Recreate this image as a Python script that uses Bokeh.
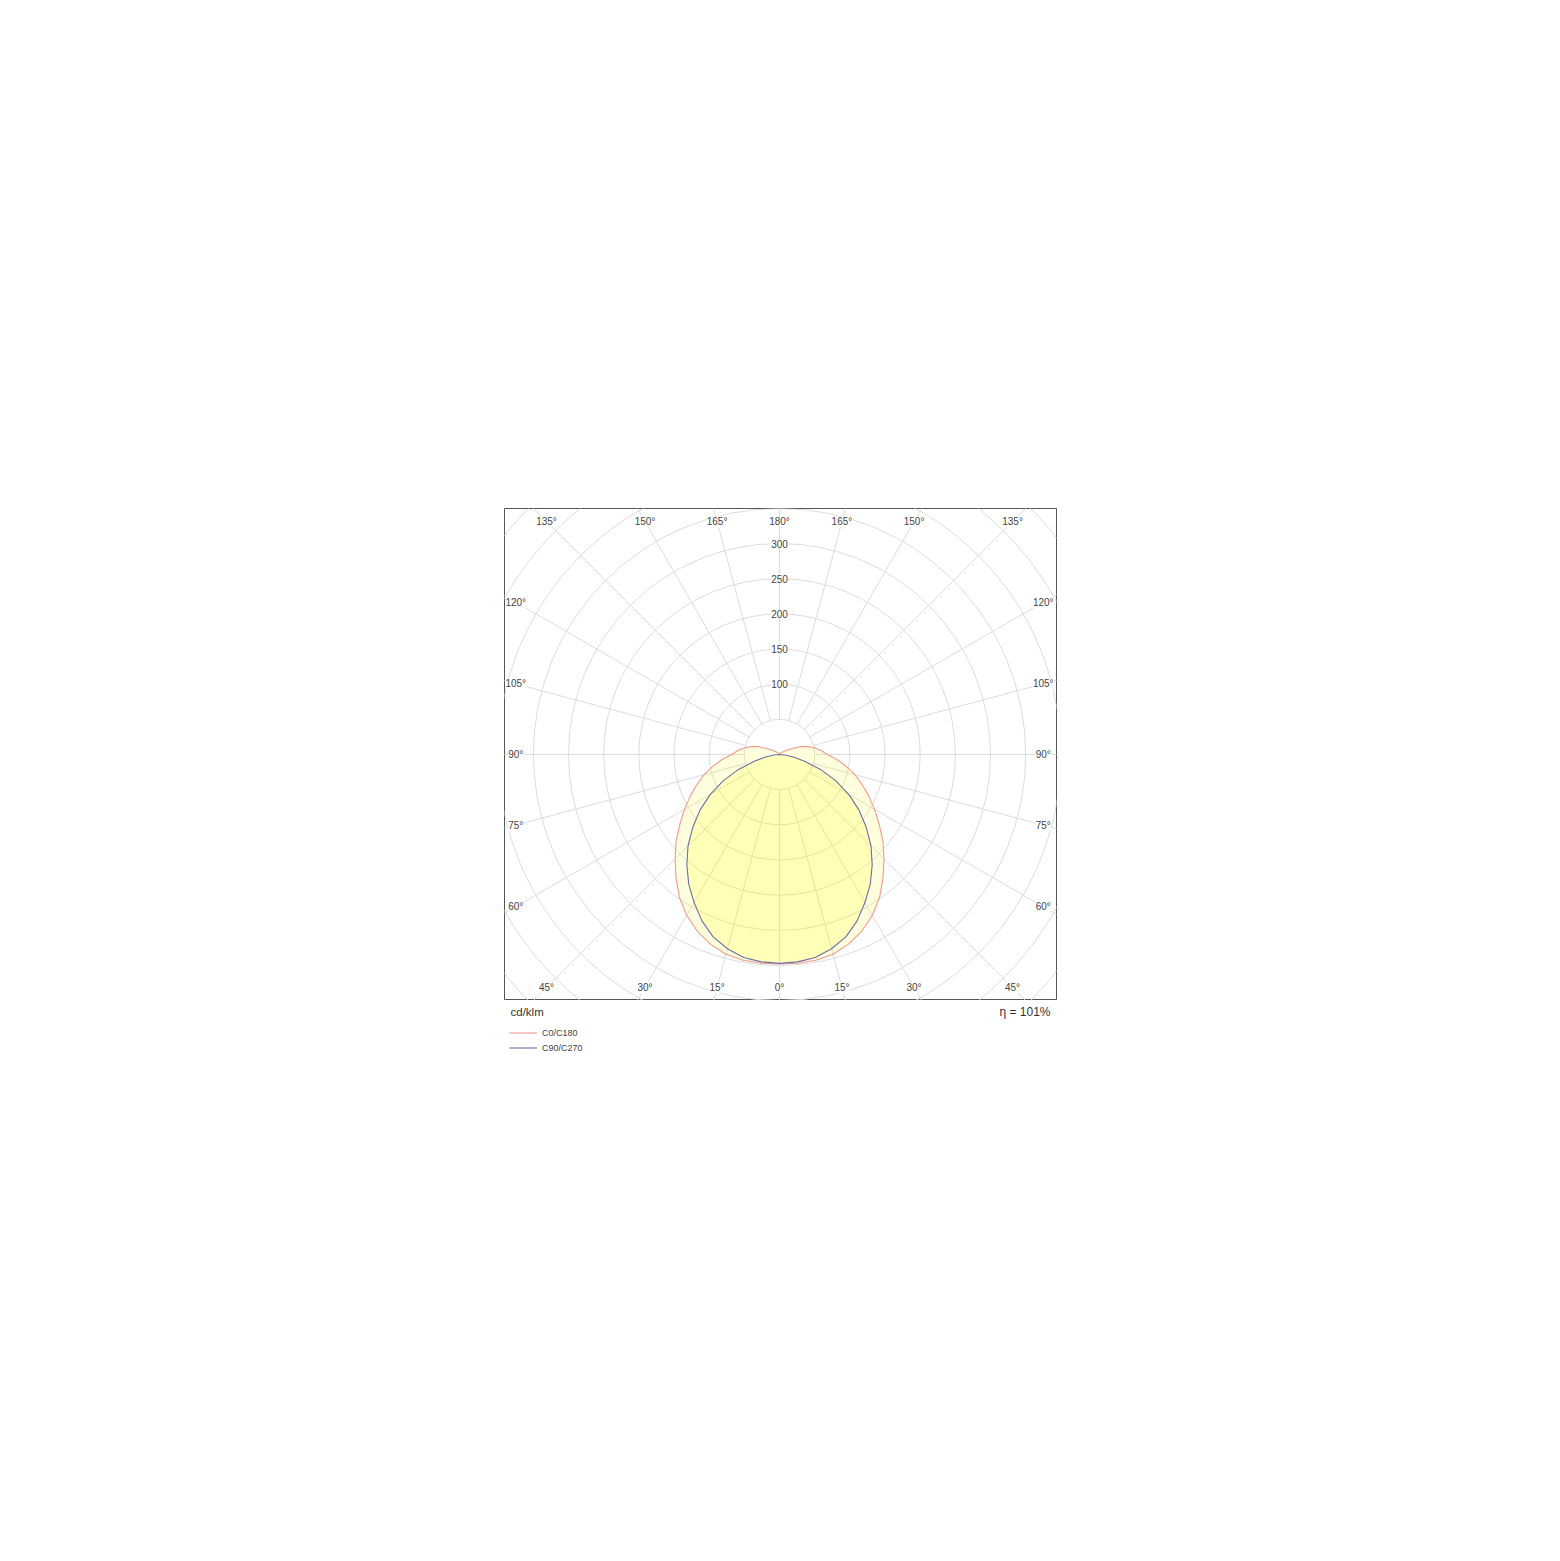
import numpy as np
from bokeh.plotting import figure
from bokeh.layouts import column
from bokeh.models import Label, Legend, LegendItem, Range1d
from bokeh.embed import file_html
from bokeh.resources import INLINE

# ---- data (cd/klm) ----
gamma = list(range(0, 185, 5))
c0_c180 = [298, 298, 297, 294, 287, 277, 264, 248, 229, 210, 192, 173, 156,
           140, 125, 111, 96, 82, 68, 60, 52, 43, 33, 20, 12, 8, 5, 4, 3, 2,
           2, 1, 1, 0, 0, 0, 0]
c90_c270 = [297, 296, 293, 286, 276, 261, 243, 225, 205, 184, 161, 138, 114,
            88, 62, 37, 20, 8, 0, 0, 0, 0, 0, 0, 0, 0, 0, 0, 0, 0,
            0, 0, 0, 0, 0, 0, 0]
series_names = ["C0/C180", "C90/C270"]
series_colors = ["#f09a8c", "#6e6ea8"]
radial_ticks = [100, 150, 200, 250, 300]
grid_radii = list(range(50, 600, 50))
angle_ticks = list(range(0, 181, 15))
unit_label = "cd/klm"
eta_label = "η = 101%"

FONT = "Liberation Sans"
TXT = "#444444"
GRID = "#dcdcdc"

x0, x1 = -391.0, 393.8
y0, y1 = -349.8, 349.8
BL, BR = 504, 488

p = figure(frame_width=552, frame_height=492,
           x_range=Range1d(x0, x1), y_range=Range1d(y0, y1),
           x_axis_location=None, y_axis_location=None,
           output_backend="svg", toolbar_location=None,
           min_border_left=BL, min_border_right=BR,
           min_border_top=508, min_border_bottom=0)
p.grid.visible = False
p.outline_line_color = "#555555"
p.outline_line_width = 1
p.background_fill_color = "white"
p.border_fill_color = "white"

# grid circles
p.circle(x=[0] * len(grid_radii), y=[0] * len(grid_radii), radius=grid_radii,
         fill_color=None, line_color=GRID, line_width=1)
# rays
ang = np.deg2rad(np.arange(0, 360, 15))
r_in, r_out = 50, 700
p.segment(x0=r_in * np.sin(ang), y0=-r_in * np.cos(ang),
          x1=r_out * np.sin(ang), y1=-r_out * np.cos(ang),
          line_color=GRID, line_width=1)

# curves
g = np.deg2rad(np.array(gamma, dtype=float))
curves = []
for vals, name, col, fa in zip([c0_c180, c90_c270], series_names, series_colors, [0.13, 0.17]):
    I = np.array(vals, dtype=float)
    xr = I * np.sin(g)
    yr = -I * np.cos(g)
    xs = np.concatenate([xr, -xr[::-1]])
    ys = np.concatenate([yr, yr[::-1]])
    p.patch(xs, ys, fill_color="#ffff00", fill_alpha=fa, line_color=None)
    curves.append((xs, ys, name, col))

for xs, ys, name, col in curves:
    p.line(xs, ys, line_color=col, line_width=1.1)

# radial value labels
for r in radial_ticks:
    p.add_layout(Label(x=0, y=r, text=str(r), text_align="center", text_baseline="middle",
                       text_font=FONT, text_font_size="10px", text_color=TXT,
                       background_fill_color="white", background_fill_alpha=1.0))

# angle labels along the frame
hx, hy = 375.0, 331.3
for phi in angle_ticks:
    sides = [1] if phi in (0, 180) else [-1, 1]
    a = np.deg2rad(phi)
    s, c = np.sin(a), np.cos(a)
    t = min(hx / abs(s) if abs(s) > 1e-9 else 1e9, hy / abs(c) if abs(c) > 1e-9 else 1e9)
    for sd in sides:
        p.add_layout(Label(x=sd * t * s, y=-t * c, text=f"{phi}°",
                           text_align="center", text_baseline="middle",
                           text_font=FONT, text_font_size="10px", text_color=TXT,
                           background_fill_color="white", background_fill_alpha=1.0))

# ---- strip below the frame (pixel units) ----
q = figure(frame_width=552, frame_height=57,
           x_range=Range1d(0, 552), y_range=Range1d(-57, 0),
           x_axis_location=None, y_axis_location=None,
           output_backend="svg", toolbar_location=None,
           min_border_left=BL, min_border_right=BR,
           min_border_top=0, min_border_bottom=0)
q.grid.visible = False
q.outline_line_color = None
q.background_fill_color = "white"
q.border_fill_color = "white"

q.add_layout(Label(x=6, y=-11, text=unit_label, text_align="left",
                   text_baseline="middle", text_font=FONT, text_font_size="11.5px",
                   text_color="#333333"))
q.add_layout(Label(x=546, y=-11, text=eta_label, text_align="right",
                   text_baseline="middle", text_font=FONT, text_font_size="12px",
                   text_color="#333333"))

leg_rs = []
for xs, ys, name, col in curves:
    leg_rs.append(q.line([-10, -9], [-100, -100], line_color=col, line_width=1.1))

legend = Legend(items=[LegendItem(label=n, renderers=[r]) for n, r in zip(series_names, leg_rs)],
                location=(3, 1), padding=2, spacing=2, margin=0,
                label_height=13, glyph_height=13, glyph_width=28, label_standoff=5,
                label_text_font=FONT, label_text_font_size="9px", label_text_color=TXT,
                border_line_alpha=0, background_fill_alpha=0)
q.add_layout(legend)

layout = column(p, q, spacing=0)
open("out.html", "w").write(file_html(layout, INLINE))
